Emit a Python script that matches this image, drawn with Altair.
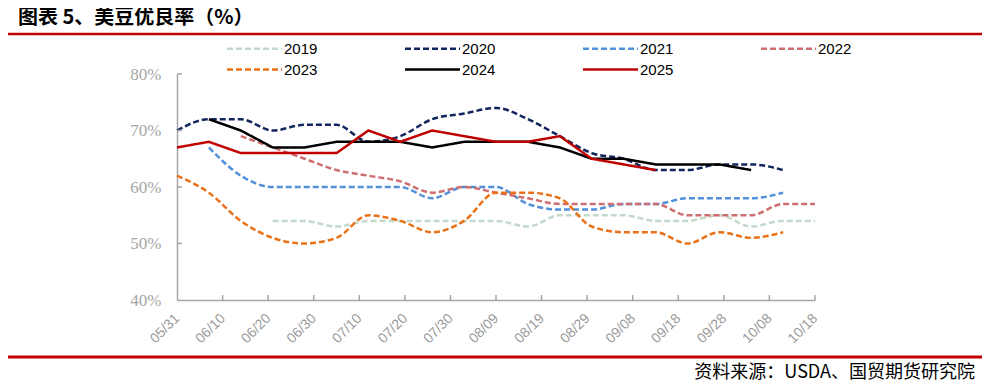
import altair as alt
import pandas as pd

# ---- data ----
weeks = ["2025-05-31", "2025-06-07", "2025-06-14", "2025-06-21", "2025-06-28",
         "2025-07-05", "2025-07-12", "2025-07-19", "2025-07-26", "2025-08-02",
         "2025-08-09", "2025-08-16", "2025-08-23", "2025-08-30", "2025-09-06",
         "2025-09-13", "2025-09-20", "2025-09-27", "2025-10-04", "2025-10-11",
         "2025-10-18"]

y2019 = [None, None, None, 54, 54, 53, 54, 54, 54, 54, 54, 53, 55, 55, 55, 54, 54, 55, 53, 54, 54]
y2020 = [70, 72, 72, 70, 71, 71, 68, 69, 72, 73, 74, 72, 69, 66, 65, 63, 63, 64, 64, 63, None]
y2021 = [None, 67, 62, 60, 60, 60, 60, 60, 58, 60, 60, 57, 56, 56, 57, 57, 58, 58, 58, 59, None]
y2022 = [None, None, 69, 67, 65, 63, 62, 61, 59, 60, 59, 58, 57, 57, 57, 57, 55, 55, 55, 57, 57]
y2023 = [62, 59, 54, 51, 50, 51, 55, 54, 52, 54, 59, 59, 58, 53, 52, 52, 50, 52, 51, 52, None]
y2024 = [None, 72, 70, 67, 67, 68, 68, 68, 67, 68, 68, 68, 67, 65, 65, 64, 64, 64, 63, None, None]
y2025 = [67, 68, 66, 66, 66, 66, 70, 68, 70, 69, 68, 68, 69, 65, 64, 63, None, None, None, None, None]

years = ["2019", "2020", "2021", "2022", "2023", "2024", "2025"]
series = [y2019, y2020, y2021, y2022, y2023, y2024, y2025]
colors = ["#C3D9CB", "#12265E", "#5290DA", "#CF6E70", "#EB7118", "#000000", "#C00000"]
dashes = [[6, 3], [6, 3], [6, 3], [6, 3], [6, 3], [1, 0], [1, 0]]
dashed_years = ["2019", "2020", "2021", "2022", "2023"]

x_ticks = ["2025-05-31", "2025-06-10", "2025-06-20", "2025-06-30", "2025-07-10",
           "2025-07-20", "2025-07-30", "2025-08-09", "2025-08-19", "2025-08-29",
           "2025-09-08", "2025-09-18", "2025-09-28", "2025-10-08", "2025-10-18"]
y_ticks = [40, 50, 60, 70, 80]

title_text = "图表 5、美豆优良率（%）"
source_text = "资料来源：USDA、国贸期货研究院"

# ---- build table ----
rows = []
for yr, vals in zip(years, series):
    for d, v in zip(weeks, vals):
        if v is not None:
            rows.append({"date": d, "value": v, "year": yr})
df = pd.DataFrame(rows)

W, H = 638, 226
GRAY = "#A6A6A6"


def dt(s):
    y, m, d = s.split("-")
    return alt.DateTime(year=int(y), month=int(m), date=int(d), utc=True)


leg = alt.Legend(
    title=None, orient="none", legendX=51, legendY=-33, direction="horizontal",
    columns=4, symbolType="M-10,0L10,0", symbolSize=30.25, symbolStrokeWidth=2.5,
    symbolOffset=19, labelOffset=22,
    labelFont="Liberation Sans", labelFontSize=15, labelColor="#000000",
    columnPadding=82, rowPadding=5, padding=0,
)

xscale = alt.Scale(type="utc", domain=[dt(x_ticks[0]), dt(x_ticks[-1])])
yscale = alt.Scale(domain=[40, 80], nice=False, zero=False)

enc = dict(
    x=alt.X("date:T", scale=xscale, title=None,
            axis=alt.Axis(values=[dt(t) for t in x_ticks],
                          labelExpr="utcFormat(datum.value, '%m/%d')",
                          labelAngle=315, labelAlign="right", labelBaseline="middle",
                          labelPadding=16, ticks=False, domainColor=GRAY, domainWidth=1.5,
                          labelColor="#9A9A9A", labelFont="Liberation Sans",
                          labelFontSize=14, grid=False, labelOverlap=False)),
    y=alt.Y("value:Q", scale=yscale, title=None,
            axis=alt.Axis(values=y_ticks, labelExpr="datum.value + '%'",
                          ticks=False, domainColor=GRAY, domainWidth=1.5,
                          labelColor="#A6A6A6", labelFont="Liberation Serif",
                          labelFontSize=17, labelPadding=16, grid=False)),
    color=alt.Color("year:N", scale=alt.Scale(domain=years, range=colors), legend=leg),
    strokeDash=alt.StrokeDash("year:N", scale=alt.Scale(domain=years, range=dashes), legend=leg),
)

dashed = alt.Chart(df).transform_filter(
    alt.FieldOneOfPredicate(field="year", oneOf=dashed_years)
).mark_line(strokeWidth=2.5, interpolate="monotone").encode(**enc)

solid = alt.Chart(df).transform_filter(
    ~alt.FieldOneOfPredicate(field="year", oneOf=dashed_years)
).mark_line(strokeWidth=2.5).encode(**enc)

xt = alt.Chart(pd.DataFrame({"date": x_ticks[1:]})).mark_rule(color=GRAY, strokeWidth=1.5).encode(
    x=alt.X("date:T", scale=xscale), y=alt.value(H), y2=alt.value(H - 5))
yt = alt.Chart(pd.DataFrame({"v": y_ticks[1:]})).mark_rule(color=GRAY, strokeWidth=1.5).encode(
    y=alt.Y("v:Q", scale=yscale), x=alt.value(0), x2=alt.value(5))

one = alt.Data(values=[{"k": 1}])
top_line = alt.Chart(one).mark_rule(color="#C00000", strokeWidth=2.5).encode(
    x=alt.value(-169), x2=alt.value(808), y=alt.value(-40))
bot_line = alt.Chart(one).mark_rule(color="#C00000", strokeWidth=3).encode(
    x=alt.value(-169), x2=alt.value(808), y=alt.value(283))
title = alt.Chart(one).mark_text(
    align="left", baseline="middle", font="Noto Sans CJK SC", fontSize=20,
    fontWeight="bold", color="#000000").encode(
    x=alt.value(-159), y=alt.value(-56), text=alt.value(title_text))
source = alt.Chart(one).mark_text(
    align="right", baseline="bottom", font="Noto Sans CJK SC", fontSize=18,
    color="#000000").encode(
    x=alt.value(798), y=alt.value(308), text=alt.value(source_text))

chart = alt.layer(dashed, solid, xt, yt, top_line, bot_line, title, source).properties(
    width=W, height=H,
    autosize=alt.AutoSizeParams(type="none"),
    padding={"left": 169, "top": 66, "right": 167, "bottom": 83},
).configure_view(stroke=None)

chart.save("out.html", embed_options={"renderer": "svg", "actions": False})
